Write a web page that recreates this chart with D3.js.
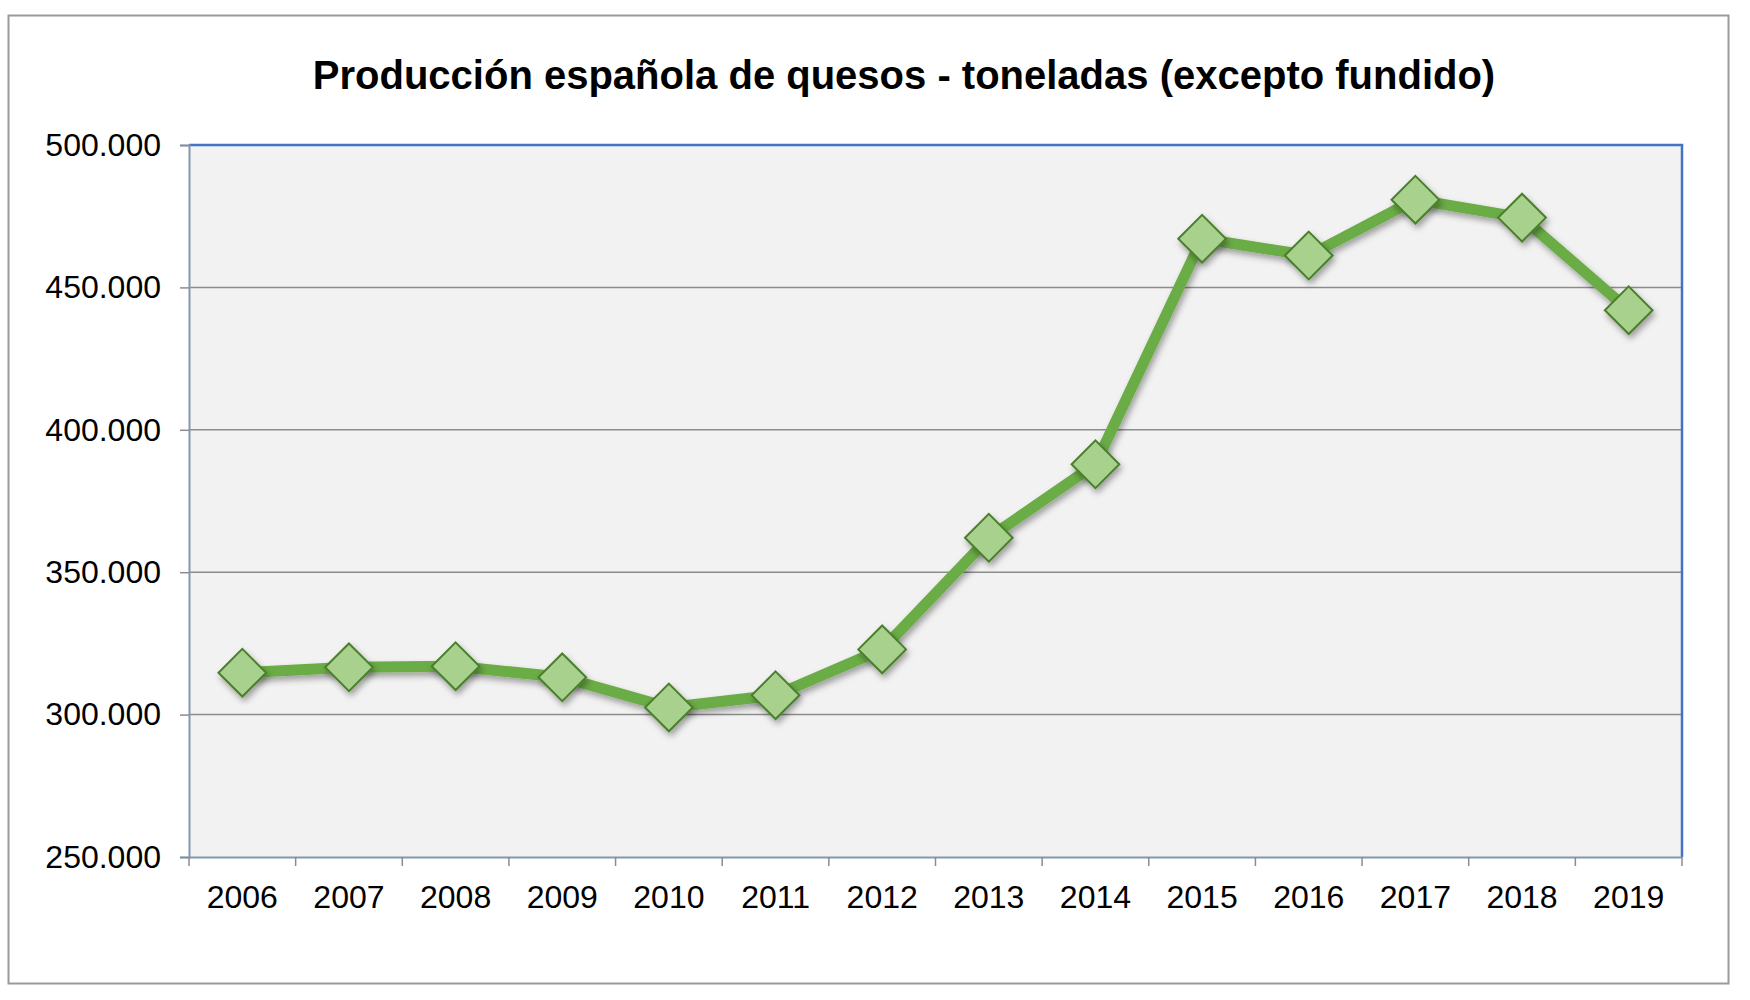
<!DOCTYPE html>
<html>
<head>
<meta charset="utf-8">
<script src="https://cdn.jsdelivr.net/npm/d3@7"></script>
<style>
  body { margin: 0; background: #fff; }
  svg { display: block; font-family: "Liberation Sans", Arial, sans-serif; }
</style>
</head>
<body>
<div id="container"></div>
<script>
const years = ["2006", "2007", "2008", "2009", "2010", "2011", "2012", "2013", "2014", "2015", "2016", "2017", "2018", "2019"];
const toneladas = [314700, 316600, 317000, 313100, 302500, 306800, 322900, 362100, 387900, 467100, 461200, 480800, 474500, 442000];
const yTicks = [250000, 300000, 350000, 400000, 450000, 500000];
const title = "Producción española de quesos - toneladas (excepto fundido)";

const w = 1750;
const h = 1000;
const plot = { left: 189, right: 1682, top: 145, bottom: 857 };

const svg = d3.select('#container').append('svg')
    .attr('width', w)
    .attr('height', h);

const defs = svg.append('defs');
const shadow = defs.append('filter')
    .attr('id', 'shadow')
    .attr('x', '-50%').attr('y', '-50%')
    .attr('width', '200%').attr('height', '200%');
shadow.append('feDropShadow')
    .attr('dx', 2).attr('dy', 4)
    .attr('stdDeviation', 3)
    .attr('flood-color', '#000')
    .attr('flood-opacity', 0.35);

// outer frame
svg.append('rect')
    .attr('x', 8.5).attr('y', 15.5)
    .attr('width', 1720).attr('height', 968)
    .attr('fill', '#fff')
    .attr('stroke', '#9a9a9a')
    .attr('stroke-width', 2);

svg.append('text')
    .attr('x', 904)
    .attr('y', 89)
    .attr('text-anchor', 'middle')
    .attr('font-size', 40)
    .attr('font-weight', 'bold')
    .attr('fill', '#000')
    .text(title);

const xScale = d3.scaleBand()
    .domain(years)
    .range([plot.left, plot.right])
    .padding(0);

const yScale = d3.scaleLinear()
    .domain([250000, 500000])
    .range([plot.bottom, plot.top]);

svg.append('rect')
    .attr('x', plot.left).attr('y', plot.top)
    .attr('width', plot.right - plot.left)
    .attr('height', plot.bottom - plot.top)
    .attr('fill', '#f2f2f2');

// gridlines
svg.append('g')
    .selectAll('line')
    .data(yTicks.filter(d => d > 250000 && d < 500000))
    .enter()
    .append('line')
    .attr('x1', plot.left).attr('x2', plot.right)
    .attr('y1', d => yScale(d)).attr('y2', d => yScale(d))
    .attr('stroke', '#8c8c8c')
    .attr('stroke-width', 1.5);

// top / right border in blue
svg.append('path')
    .attr('d', `M${plot.left},${plot.top}H${plot.right}V${plot.bottom}`)
    .attr('fill', 'none')
    .attr('stroke', '#4472c4')
    .attr('stroke-width', 2.5);

const yAxis = d3.axisLeft(yScale)
    .tickValues(yTicks)
    .tickFormat(d => d3.format(',.0f')(d).replace(/,/g, '.'))
    .tickSize(9)
    .tickPadding(19);

const gy = svg.append('g')
    .attr('transform', `translate(${plot.left},0)`)
    .call(yAxis);
gy.select('.domain').attr('stroke', '#8497b0').attr('stroke-width', 2);
gy.selectAll('.tick line').attr('stroke', '#8c8c8c').attr('stroke-width', 1.5);
gy.selectAll('.tick text')
    .attr('font-size', 32)
    .attr('fill', '#000')
    .attr('font-family', '"Liberation Sans", Arial, sans-serif');

const xAxis = d3.axisBottom(xScale)
    .tickSize(0)
    .tickPadding(28);

const gx = svg.append('g')
    .attr('transform', `translate(0,${plot.bottom})`)
    .call(xAxis);
gx.select('.domain').attr('stroke', '#8497b0').attr('stroke-width', 2);
gx.selectAll('.tick text')
    .attr('font-size', 32)
    .attr('fill', '#000')
    .attr('font-family', '"Liberation Sans", Arial, sans-serif');

// category boundary ticks
const bounds = years.map(y => xScale(y)).concat([plot.right]);
gx.append('g')
    .selectAll('line')
    .data(bounds)
    .enter()
    .append('line')
    .attr('x1', d => d).attr('x2', d => d)
    .attr('y1', 0).attr('y2', 9)
    .attr('stroke', '#8c8c8c')
    .attr('stroke-width', 1.5);

const cx = (d, i) => xScale(years[i]) + xScale.bandwidth() / 2;

const line = d3.line()
    .x((d, i) => cx(d, i))
    .y(d => yScale(d));

svg.append('path')
    .datum(toneladas)
    .attr('d', line)
    .attr('fill', 'none')
    .attr('stroke', '#6aac44')
    .attr('stroke-width', 11)
    .attr('stroke-linejoin', 'round')
    .attr('filter', 'url(#shadow)');

const symbol = d3.symbol().type(d3.symbolDiamond2).size(1450);

svg.append('g')
    .selectAll('path')
    .data(toneladas)
    .enter()
    .append('path')
    .attr('d', symbol)
    .attr('transform', (d, i) => `translate(${cx(d, i)},${yScale(d)})`)
    .attr('fill', '#a9d18e')
    .attr('stroke', '#4a7f2c')
    .attr('stroke-width', 2)
    .attr('filter', 'url(#shadow)');
</script>
</body>
</html>
